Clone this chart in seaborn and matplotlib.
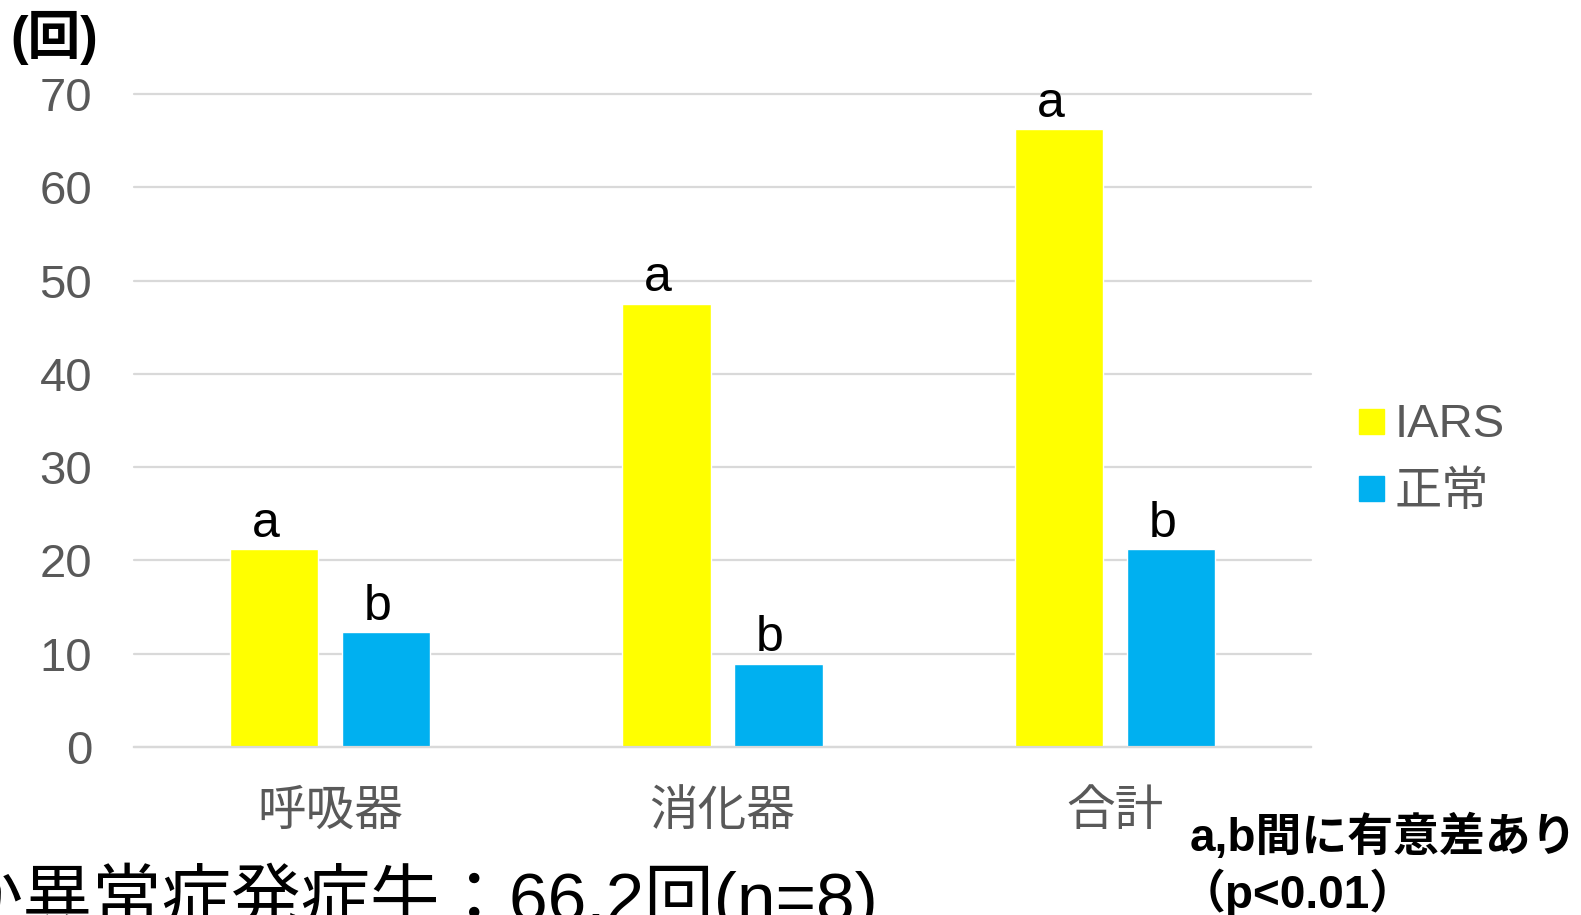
import matplotlib
matplotlib.use("Agg")
import matplotlib.pyplot as plt
from matplotlib.lines import Line2D
import seaborn as sns
import pandas as pd

# ---- data ----
categories = ["呼吸器", "消化器", "合計"]
groups = ["IARS", "正常"]
iars_values = [21.2, 47.5, 66.2]
normal_values = [12.3, 8.9, 21.2]
iars_letters = ["a", "a", "a"]
normal_letters = ["b", "b", "b"]
yticks = [0, 10, 20, 30, 40, 50, 60, 70]

colors = ["#FFFF00", "#00B0F0"]
grid_color = "#D9D9D9"
label_color = "#595959"

sns.set_style("white")
plt.rcParams["font.family"] = ["Liberation Sans", "Noto Sans CJK JP"]

df = pd.DataFrame({
    "category": categories * 2,
    "value": iars_values + normal_values,
    "group": [groups[0]] * 3 + [groups[1]] * 3,
})

fig = plt.figure(figsize=(15.81, 9.15), dpi=100)
ax = fig.add_axes([134 / 1581, 1 - 747 / 915, (1311 - 134) / 1581, (747 - 94) / 915])

sns.barplot(data=df, x="category", y="value", hue="group", order=categories,
            hue_order=groups, palette=colors, saturation=1, width=0.571, gap=0.214,
            errorbar=None, legend=False, ax=ax)

ax.set_xlim(-0.5, 2.5)
ax.set_ylim(0, 70)
ax.set_yticks(yticks)
ax.set_axisbelow(True)
ax.yaxis.grid(True, color=grid_color, linewidth=1.6)
for gl in ax.get_ygridlines():
    gl.set_clip_on(False)
ax.xaxis.grid(False)
for s in ["top", "right", "left"]:
    ax.spines[s].set_visible(False)
ax.spines["bottom"].set_color(grid_color)
ax.spines["bottom"].set_linewidth(1.6)
ax.set_xlabel("")
ax.set_ylabel("")
ax.tick_params(axis="y", length=0, pad=30, labelsize=34, labelcolor=label_color)
ax.tick_params(axis="x", length=0, pad=31, labelsize=35, labelcolor=label_color)

# significance letters
for container, letters in zip(ax.containers, [iars_letters, normal_letters]):
    for rect, letter in zip(container, letters):
        ax.annotate(letter, (rect.get_x() + rect.get_width() / 2, rect.get_height()),
                    xytext=(-6, 9), textcoords="offset points", ha="center",
                    va="baseline", fontsize=36, color="black")

# legend
handles = [Line2D([], [], marker="s", linestyle="", markersize=18,
                  markerfacecolor=c, markeredgecolor=c) for c in colors]
leg = fig.legend(handles, groups, loc="center left",
                 bbox_to_anchor=(1324 / 1581, 1 - 459 / 915), frameon=False,
                 fontsize=34, handletextpad=0.0, labelspacing=0.5,
                 borderpad=0, handlelength=1.0)
for t in leg.get_texts():
    t.set_color(label_color)

# texts
fig.text(10 / 1581, 1 - 54 / 915, "(回)", fontsize=38, fontweight="bold",
         color="black", ha="left", va="baseline")
fig.text(1190 / 1581, 1 - 851 / 915, "a,b間に有意差あり", fontsize=33,
         fontweight="bold", color="black", ha="left", va="baseline")
fig.text(1180 / 1581, 1 - 908 / 915, "（p<0.01）", fontsize=33,
         fontweight="bold", color="black", ha="left", va="baseline")
fig.text(-46 / 1581, 1 - 921 / 915, "か異常症発症牛：66.2回(n=8)", fontsize=50,
         color="black", ha="left", va="baseline")

fig.savefig("out.png", dpi=100)
